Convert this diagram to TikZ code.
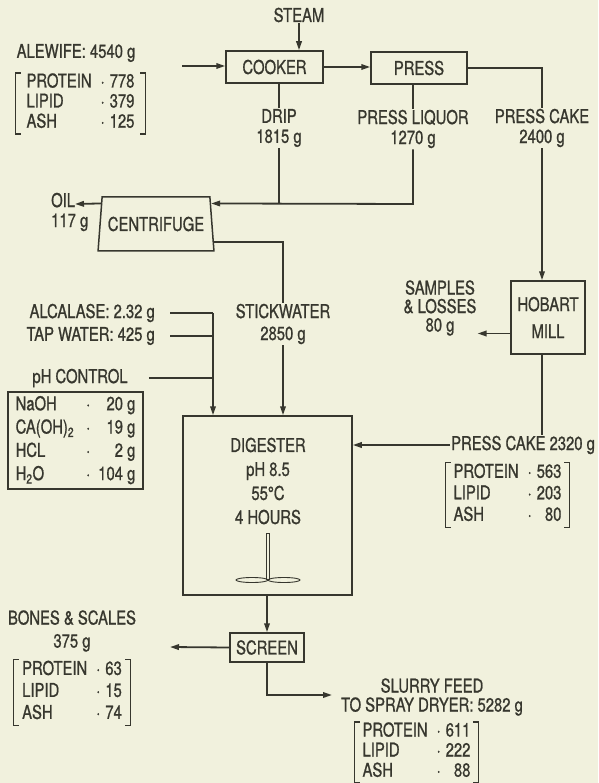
\documentclass[tikz,border=0pt]{standalone}
\usepackage{fontspec}
\setmainfont[FakeStretch=0.78,FakeBold=0.9]{TeX Gyre Heros}
\usetikzlibrary{arrows.meta,calc,shapes.geometric}
\definecolor{paper}{RGB}{241,241,221}
\definecolor{ink}{RGB}{55,55,46}
\tikzset{
  unit/.style={draw=ink,line width=1.5pt,inner sep=2pt,align=center},
  lbl/.style={align=center,inner sep=1pt},
  comp/.style={inner sep=0pt},
  pipe/.style={draw=ink,line width=1.8pt},
  flow/.style={pipe,-{Triangle[length=9pt,width=5.5pt]}},
}
\newcommand{\composition}[3]{\begin{tabular}{@{}l@{\hspace{9pt}}c@{\hspace{5pt}}r@{}}PROTEIN&·&#1\\LIPID&·&#2\\ASH&·&#3\end{tabular}}
\newcommand{\brackets}[1]{\draw[ink,line width=1.3pt] ([xshift=5pt]#1.north west) -- (#1.north west) -- (#1.south west) -- ([xshift=5pt]#1.south west)
  ([xshift=-5pt]#1.north east) -- (#1.north east) -- (#1.south east) -- ([xshift=-5pt]#1.south east);}

\begin{document}
\begin{tikzpicture}[x=1pt,y=-1pt,font=\fontsize{19}{20}\selectfont,text=ink]
\fill[paper] (0,0) rectangle (598,783);
\useasboundingbox (0,0) rectangle (598,783);
% cooking and pressing
\node[lbl] (steam) at (299,15) {STEAM};
\node[unit,minimum width=97pt,minimum height=32pt] (cooker) at (274.5,67) {COOKER};
\node[unit,minimum width=96pt,minimum height=32pt] (press) at (419,68) {PRESS};
\node[lbl] (alewife) at (76,53) {ALEWIFE: 4540 g};
\node[comp,minimum width=129pt,minimum height=59pt] (alewifecomp) at (80.5,103.5) {\composition{778}{379}{125}};
\brackets{alewifecomp}
\coordinate (feed) at (182,66);
\draw[flow] (feed) -- (feed -| cooker.west);
\draw[flow] (steam.south) -- (steam.south |- cooker.north);
\draw[flow] (cooker.east) -- (cooker.east -| press.west);
\node[lbl] (drip) at (279,128) {DRIP\\1815 g};
\node[lbl] (liquor) at (413,129) {PRESS LIQUOR\\1270 g};
\node[lbl] (cake) at (542,128) {PRESS CAKE\\2400 g};
% centrifuge
\node[draw=ink,line width=1.5pt,trapezium,trapezium left angle=76,trapezium right angle=76,trapezium stretches=true,
  minimum width=116pt,minimum height=54pt,inner sep=0pt] (centrifuge) at (156,224) {CENTRIFUGE};
\node[lbl,anchor=west,align=left] (oil) at (50,212) {OIL\\117 g};
\coordinate (oiltip) at (75,204);
\coordinate (liq) at (413,204);
\coordinate (cfin) at ($(centrifuge.top right corner)!0.13!(centrifuge.bottom right corner)$);
\coordinate (cfoil) at ($(centrifuge.top left corner)!0.13!(centrifuge.bottom left corner)$);
\coordinate (cfstick) at ($(centrifuge.top right corner)!0.83!(centrifuge.bottom right corner)$);
\draw[pipe] (cooker.south -| drip) -- (drip.north);
\draw[pipe] (drip.south) -- (drip |- liq);
\draw[pipe] (press.south -| liquor) -- (liquor.north);
\draw[flow] (liquor.south) -- (liq) -- (cfin);
\draw[flow] (cfoil) -- (oiltip);
\draw[pipe] (press.east) -| (cake.north);
% hobart mill
\node[unit,minimum width=74pt,minimum height=73pt] (hobart) at (548,317.5) {HOBART\\[7pt]MILL};
\node[lbl,font=\fontsize{19}{18.5}\selectfont] (samples) at (440,308) {SAMPLES\\\& LOSSES\\80 g};
\draw[flow] (cake.south) -- (cake.south |- hobart.north);
\draw[flow] ([yshift=-16pt]hobart.west) -- ([yshift=-16pt]hobart.west -| samples.east);
\node[lbl,anchor=west] (cake2) at (450,445) {PRESS CAKE 2320 g};
\node[comp,minimum width=123pt,minimum height=60pt] (cake2comp) at (507.5,495) {\renewcommand{\arraystretch}{1.075}\composition{563}{203}{80}};
\brackets{cake2comp}
% digester and its feeds
\node[unit,minimum width=169pt,minimum height=179pt] (digester) at (267.5,505.5) {};
\node[lbl,font=\fontsize{19}{24}\selectfont] (digtext) at (268,481) {DIGESTER\\pH 8.5\\55°C\\4 HOURS};
\draw[ink,line width=0.9pt] (266.5,533) rectangle (269.5,579);
\draw[ink,line width=0.9pt] (252,580) ellipse [x radius=16pt,y radius=2.5pt] (284,580) ellipse [x radius=16pt,y radius=2.5pt];
\node[lbl,font=\fontsize{19}{22}\selectfont] (stick) at (283,324) {STICKWATER\\2850 g};
\draw[pipe] (cfstick) -| (stick.north);
\draw[flow] (stick.south) -- (stick.south |- digester.north);
\node[lbl,anchor=east] (alcalase) at (156,313) {ALCALASE: 2.32 g};
\node[lbl,anchor=east] (tap) at (156,336) {TAP WATER: 425 g};
\node[lbl] (phctl) at (80,378) {pH CONTROL};
\node[draw=ink,line width=1.5pt,inner sep=0pt,minimum width=135pt,minimum height=97pt] (phcomp) at (75.5,440.5)
  {\renewcommand{\arraystretch}{1.165}\begin{tabular}{@{}l@{\hspace{12pt}}c@{\hspace{8pt}}r@{}}NaOH&·&20 g\\CA(OH)\textsubscript{2}&·&19 g\\HCL&·&2 g\\H\textsubscript{2}O&·&104 g\end{tabular}};
\coordinate (mix) at (213,313);
\draw[pipe] ([xshift=14pt]alcalase.east) -- (alcalase.east -| mix);
\draw[pipe] ([xshift=14pt]tap.east) -- (tap.east -| mix);
\draw[pipe] ([xshift=20pt]phctl.east) -- (phctl.east -| mix);
\draw[flow] (mix) -- (mix |- digester.north);
\draw[pipe] (cake |- hobart.south) -- (cake |- cake2.north);
\draw[flow] (cake2.west) -- (cake2.west -| digester.east);
% screening
\node[unit,minimum width=74pt,minimum height=29pt] (screen) at (267,647.5) {SCREEN};
\draw[flow] (digester.south -| screen.north) -- (screen.north);
\node[lbl,font=\fontsize{19}{23}\selectfont] (bones) at (72,631) {BONES \& SCALES\\375 g};
\node[comp,minimum width=116pt,minimum height=59pt] (bonescomp) at (72,692.5) {\renewcommand{\arraystretch}{1.1}\composition{63}{15}{74}};
\brackets{bonescomp}
\coordinate (bonestip) at (170,647);
\draw[flow] (screen.west) -- (bonestip);
\node[lbl,font=\fontsize{19}{19}\selectfont] (slurry) at (432,697) {SLURRY FEED\\TO SPRAY DRYER: 5282 g};
\node[comp,minimum width=123pt,minimum height=59pt] (slurrycomp) at (416.5,752.5) {\composition{611}{222}{88}};
\brackets{slurrycomp}
\coordinate (slurrytip) at (332,695);
\draw[flow] (screen.south) |- (slurrytip);
\end{tikzpicture}
\end{document}
